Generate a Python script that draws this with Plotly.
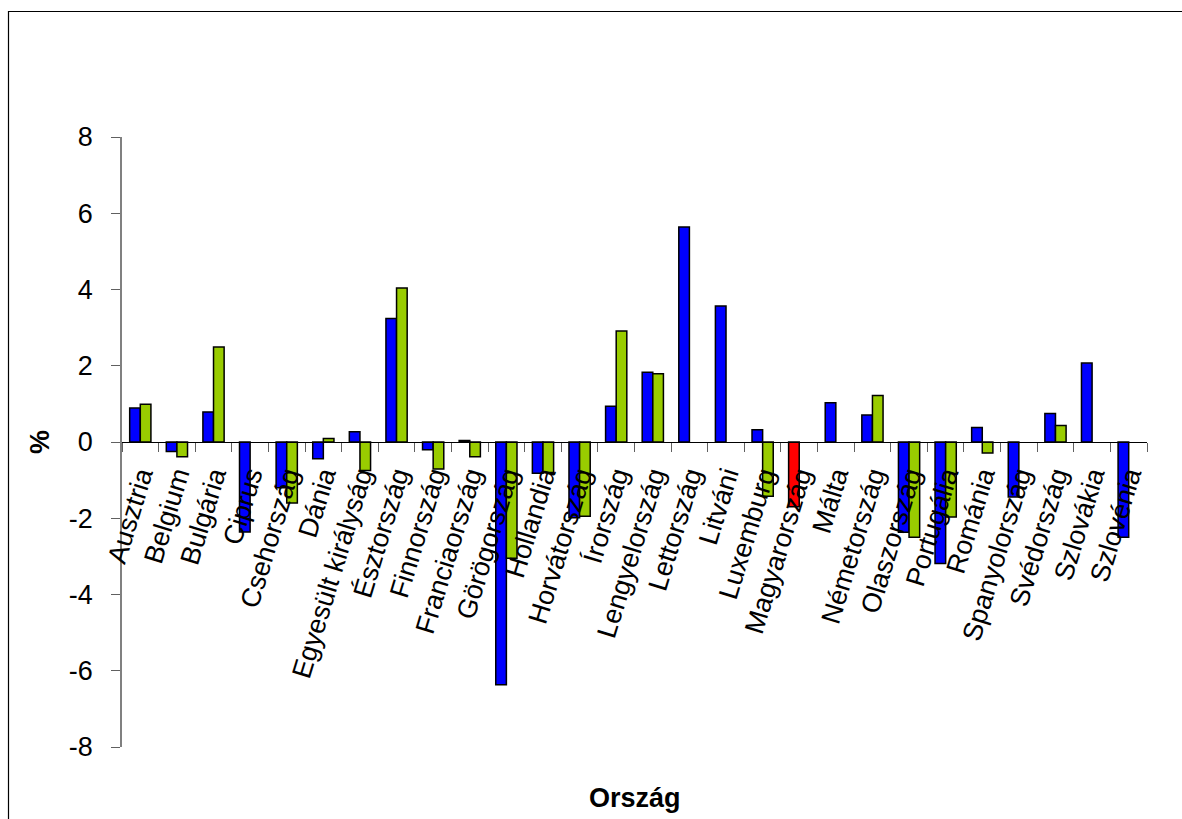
import plotly.graph_objects as go

countries = ["Ausztria", "Belgium", "Bulgária", "Ciprus", "Csehország", "Dánia",
             "Egyesült királyság", "Észtország", "Finnország", "Franciaország",
             "Görögország", "Hollandia", "Horvátország", "Írország", "Lengyelország",
             "Lettország", "Litváni", "Luxemburg", "Magyarország", "Málta",
             "Németország", "Olaszország", "Portugália", "Románia", "Spanyolország",
             "Svédország", "Szlovákia", "Szlovénia"]

series_1 = [0.89, -0.25, 0.79, -2.36, -1.2, -0.44, 0.27, 3.24, -0.2, 0.04,
            -6.37, -0.82, -1.99, 0.94, 1.83, 5.64, 3.57, 0.32, -1.70, 1.03,
            0.71, -2.37, -3.19, 0.38, -1.44, 0.75, 2.07, -2.5]

series_2 = [0.99, -0.39, 2.49, None, -1.6, 0.09, -0.75, 4.04, -0.71, -0.39,
            -3.05, -0.8, -1.95, 2.91, 1.79, None, None, -1.42, None, None,
            1.22, -2.5, -1.97, -0.29, None, 0.43, None, None]

highlight = "Magyarország"

y_tick_vals = [-8, -6, -4, -2, 0, 2, 4, 6, 8]
y_tick_text = ["-8", "-6", "-4", "-2", "0", "2", "4", "6", "8"]

BLUE = "#0000FF"
GREEN = "#99CC00"
RED = "#FF0000"
FONT = "Liberation Sans, Arial, sans-serif"
FS = 27

colors_1 = [RED if c == highlight else BLUE for c in countries]

fig = go.Figure()
fig.add_trace(go.Bar(x=countries, y=series_1, marker=dict(color=colors_1, line=dict(color="black", width=1.5)),
                     showlegend=False))
fig.add_trace(go.Bar(x=countries, y=series_2, marker=dict(color=GREEN, line=dict(color="black", width=1.5)),
                     showlegend=False))

L, R, T, B = 122, 35, 137, 72
W, H = 1182, 819
pw, ph = W - L - R, H - T - B

def px_x(px):
    return (px - L) / pw

def px_y(py):
    return (H - B - py) / ph

fig.update_layout(
    width=W, height=H,
    margin=dict(l=L, r=R, t=T, b=B, autoexpand=False),
    paper_bgcolor="white", plot_bgcolor="white",
    barmode="group", bargap=0.42, bargroupgap=0,
    font=dict(family=FONT, size=FS, color="black"),
    xaxis=dict(
        type="category", anchor="free", position=0.5,
        showline=True, linecolor="black", linewidth=1,
        ticks="outside", tickson="boundaries", ticklen=9, tickcolor="#606060", tickwidth=1,
        tickangle=-73, tickfont=dict(size=FS, family=FONT, color="black"),
        ticklabelstandoff=6,
        showgrid=False, zeroline=False, automargin=False,
    ),
    yaxis=dict(
        range=[-8, 8], tickvals=y_tick_vals, ticktext=y_tick_text,
        showline=True, linecolor="#808080", linewidth=1.5,
        ticks="outside", ticklen=9, tickcolor="#606060", tickwidth=1,
        tickfont=dict(size=FS, family=FONT, color="black"),
        ticklabelstandoff=13,
        showgrid=False, zeroline=False, automargin=False,
    ),
    annotations=[
        dict(text="<b>Ország</b>", xref="paper", yref="paper", x=0.5, y=px_y(798),
             showarrow=False, xanchor="center", yanchor="middle",
             font=dict(size=FS, family=FONT, color="black")),
        dict(text="<b>%</b>", xref="paper", yref="paper", x=px_x(40), y=0.5,
             showarrow=False, xanchor="center", yanchor="middle", textangle=-90,
             font=dict(size=FS, family=FONT, color="black")),
    ],
    shapes=[
        dict(type="rect", xref="paper", yref="paper",
             x0=px_x(8.5), x1=px_x(1195), y0=px_y(830), y1=px_y(11.5),
             line=dict(color="black", width=1.2), fillcolor="rgba(0,0,0,0)", layer="above"),
    ],
)

fig.write_html("out.html")
